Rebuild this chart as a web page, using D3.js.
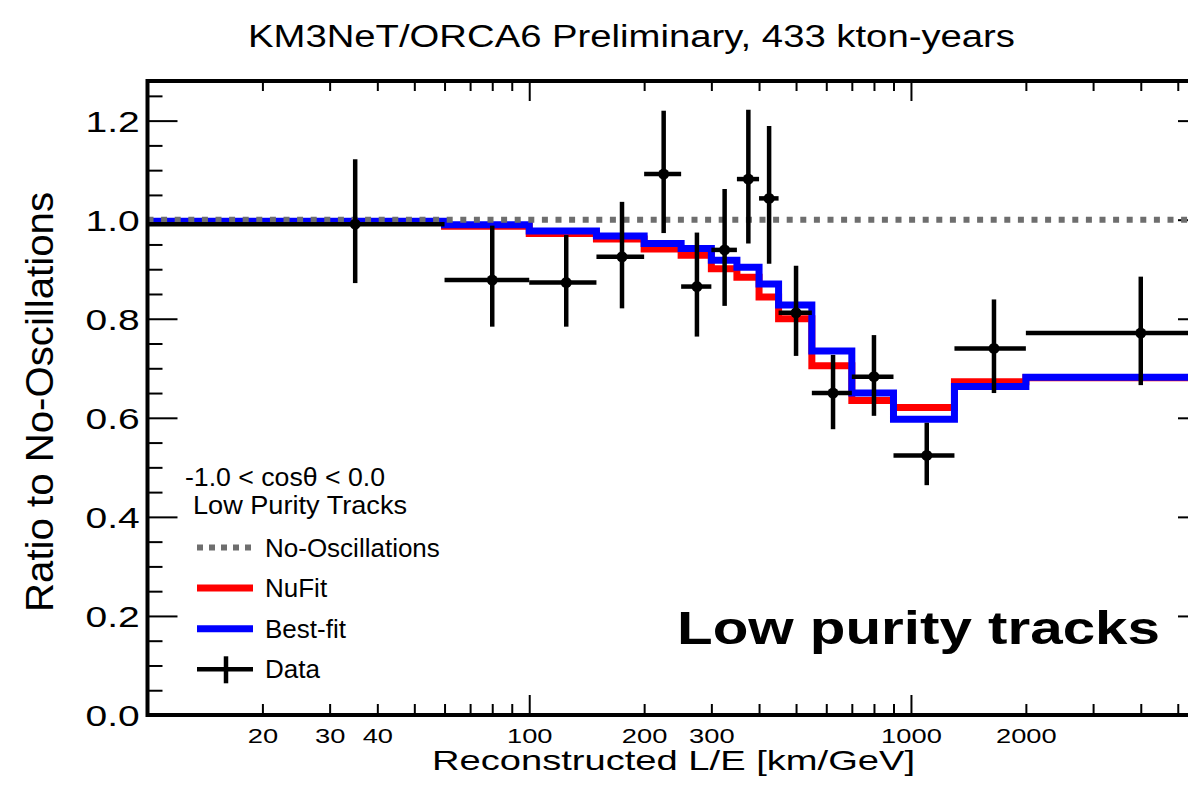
<!DOCTYPE html>
<html>
<head>
<meta charset="utf-8">
<script src="https://cdn.jsdelivr.net/npm/d3@7"></script>
<style>
  body { margin: 0; background: #fff; }
  svg { display: block; font-family: "Liberation Sans", Arial, Helvetica, sans-serif; }
</style>
</head>
<body>
<div id="chart"></div>
<script>
const width = 1188;
const height = 801;

// L/E bin edges [km/GeV]
const binEdges = [10, 60, 100, 150, 200, 250, 300, 350, 400, 450, 550, 700, 900, 1300, 2000, 6000];
const dataRatio = [0.991, 0.878, 0.873, 0.925, 1.092, 0.865, 0.939, 1.082, 1.043, 0.812, 0.650, 0.683, 0.524, 0.740, 0.771];
const dataUpper = [1.122, 0.988, 0.969, 1.036, 1.220, 0.974, 1.062, 1.222, 1.189, 0.907, 0.727, 0.767, 0.590, 0.839, 0.885];
const dataLower = [0.872, 0.784, 0.784, 0.821, 0.973, 0.764, 0.826, 0.952, 0.911, 0.725, 0.577, 0.604, 0.464, 0.650, 0.666];
const nufitRatio = [0.996, 0.987, 0.972, 0.961, 0.941, 0.928, 0.901, 0.884, 0.844, 0.800, 0.705, 0.635, 0.621, 0.673, 0.681];
const bestfitRatio = [0.997, 0.990, 0.977, 0.967, 0.952, 0.942, 0.918, 0.904, 0.870, 0.828, 0.735, 0.650, 0.597, 0.663, 0.682];
const noOscRatio = 1.0;

const xTickLabels = [20, 30, 40, 100, 200, 300, 1000, 2000];
const yTickLabels = [0, 0.2, 0.4, 0.6, 0.8, 1.0, 1.2];
const legendHeader = ["-1.0 < cos\u03b8 < 0.0", "Low Purity Tracks"];
const legendLabels = ["No-Oscillations", "NuFit", "Best-fit", "Data"];

const colors = {
    noOsc: "#6e6e6e",
    nufit: "#ff0000",
    bestfit: "#0000ff",
    data: "#000000"
};

const frame = { left: 147.5, right: 1208, top: 81, bottom: 715 };

const x = d3.scaleLog().domain([10, 6000]).range([frame.left, frame.right]);
const y = d3.scaleLinear().domain([0, 1.28]).range([frame.bottom, frame.top]);

const svg = d3.select("#chart")
    .append("svg")
    .attr("width", width)
    .attr("height", height);

const isDecade = v => Math.abs(Math.log10(v) - Math.round(Math.log10(v))) < 1e-9;
const xMajor = x.ticks().filter(isDecade);
const xMinor = x.ticks().filter(v => !isDecade(v));
const yMajor = yTickLabels;
const yMinor = d3.range(0, 26).map(i => i * 0.05).filter(v => Math.abs(v * 5 - Math.round(v * 5)) > 1e-6);

function cleanAxis(g) {
    g.select(".domain").remove();
    g.selectAll(".tick line").attr("stroke", "#000").attr("stroke-width", 2);
}

// ticks, all pointing inward
svg.append("g").attr("transform", `translate(0,${frame.bottom})`)
    .call(d3.axisBottom(x).tickValues(xMinor).tickSize(-11).tickFormat("")).call(cleanAxis);
svg.append("g").attr("transform", `translate(0,${frame.bottom})`)
    .call(d3.axisBottom(x).tickValues(xMajor).tickSize(-20).tickFormat("")).call(cleanAxis);
svg.append("g").attr("transform", `translate(0,${frame.top})`)
    .call(d3.axisTop(x).tickValues(xMinor).tickSize(-10).tickFormat("")).call(cleanAxis);
svg.append("g").attr("transform", `translate(0,${frame.top})`)
    .call(d3.axisTop(x).tickValues(xMajor).tickSize(-20).tickFormat("")).call(cleanAxis);
svg.append("g").attr("transform", `translate(${frame.left},0)`)
    .call(d3.axisLeft(y).tickValues(yMinor).tickSize(-15).tickFormat("")).call(cleanAxis);
svg.append("g").attr("transform", `translate(${frame.left},0)`)
    .call(d3.axisLeft(y).tickValues(yMajor).tickSize(-30).tickFormat("")).call(cleanAxis);
svg.append("g").attr("transform", `translate(${frame.right},0)`)
    .call(d3.axisRight(y).tickValues(yMinor).tickSize(-15).tickFormat("")).call(cleanAxis);
svg.append("g").attr("transform", `translate(${frame.right},0)`)
    .call(d3.axisRight(y).tickValues(yMajor).tickSize(-30).tickFormat("")).call(cleanAxis);

// tick labels (the original text is drawn a bit wider than normal)
const xLabels = svg.append("g").attr("transform", `translate(0,${frame.bottom})`)
    .call(d3.axisBottom(x).tickValues(xTickLabels).tickSize(0).tickPadding(13).tickFormat(d3.format("d")));
xLabels.select(".domain").remove();
xLabels.selectAll("text")
    .attr("font-family", null)
    .attr("font-size", 21)
    .attr("fill", "#000")
    .attr("transform", "scale(1.3,1)");
xLabels.attr("font-family", null);

const yLabels = svg.append("g").attr("transform", `translate(${frame.left},0)`)
    .call(d3.axisLeft(y).tickValues(yTickLabels).tickSize(0).tickPadding(6).tickFormat(d3.format(".1f")));
yLabels.select(".domain").remove();
yLabels.attr("font-family", null);
yLabels.selectAll("text")
    .attr("font-size", 30)
    .attr("fill", "#000")
    .attr("dy", "0.36em")
    .attr("transform", "scale(1.3,1)");

// histograms
const stepPoints = vals => binEdges.map((e, i) => [e, vals[Math.min(i, vals.length - 1)]]);
const stepLine = d3.line()
    .x(d => x(d[0]))
    .y(d => y(d[1]))
    .curve(d3.curveStepAfter);

svg.append("path")
    .datum(stepPoints(nufitRatio))
    .attr("d", stepLine)
    .attr("fill", "none")
    .attr("stroke", colors.nufit)
    .attr("stroke-width", 7);

svg.append("path")
    .datum(stepPoints(bestfitRatio))
    .attr("d", stepLine)
    .attr("fill", "none")
    .attr("stroke", colors.bestfit)
    .attr("stroke-width", 7);

svg.append("path")
    .datum([[binEdges[0], noOscRatio], [binEdges[binEdges.length - 1], noOscRatio]])
    .attr("d", d3.line().x(d => x(d[0])).y(d => y(d[1])))
    .attr("fill", "none")
    .attr("stroke", colors.noOsc)
    .attr("stroke-width", 6)
    .attr("stroke-dasharray", "6,7.6");

// data points with error bars
const bins = dataRatio.map((v, i) => ({
    lo: binEdges[i],
    hi: binEdges[i + 1],
    center: (binEdges[i] + binEdges[i + 1]) / 2,
    value: v,
    upper: dataUpper[i],
    lower: dataLower[i]
}));

const points = svg.append("g").selectAll("g")
    .data(bins)
    .enter()
    .append("g");

points.append("line")
    .attr("x1", d => x(d.lo))
    .attr("x2", d => x(d.hi))
    .attr("y1", d => y(d.value))
    .attr("y2", d => y(d.value))
    .attr("stroke", colors.data)
    .attr("stroke-width", 4.5);

points.append("line")
    .attr("x1", d => x(d.center))
    .attr("x2", d => x(d.center))
    .attr("y1", d => y(d.upper))
    .attr("y2", d => y(d.lower))
    .attr("stroke", colors.data)
    .attr("stroke-width", 4.5);

points.append("circle")
    .attr("cx", d => x(d.center))
    .attr("cy", d => y(d.value))
    .attr("r", 5.5)
    .attr("fill", colors.data);

// frame
svg.append("rect")
    .attr("x", frame.left)
    .attr("y", frame.top)
    .attr("width", frame.right - frame.left)
    .attr("height", frame.bottom - frame.top)
    .attr("fill", "none")
    .attr("stroke", "#000")
    .attr("stroke-width", 4);

// titles
svg.append("text")
    .attr("x", 248)
    .attr("y", 47)
    .attr("font-size", 31)
    .attr("textLength", 767)
    .attr("lengthAdjust", "spacingAndGlyphs")
    .text("KM3NeT/ORCA6 Preliminary, 433 kton-years");

svg.append("text")
    .attr("x", 432)
    .attr("y", 770)
    .attr("font-size", 28)
    .attr("textLength", 483)
    .attr("lengthAdjust", "spacingAndGlyphs")
    .text("Reconstructed L/E [km/GeV]");

svg.append("text")
    .attr("transform", "translate(53,612) rotate(-90)")
    .attr("font-size", 39.5)
    .attr("textLength", 420)
    .attr("lengthAdjust", "spacingAndGlyphs")
    .text("Ratio to No-Oscillations");

svg.append("text")
    .attr("x", 677)
    .attr("y", 644)
    .attr("font-size", 45.5)
    .attr("font-weight", "bold")
    .attr("textLength", 483)
    .attr("lengthAdjust", "spacingAndGlyphs")
    .text("Low purity tracks");

// legend
const legend = svg.append("g");

legend.selectAll("text.header")
    .data(legendHeader)
    .enter()
    .append("text")
    .attr("class", "header")
    .attr("x", (d, i) => [185, 193][i])
    .attr("y", (d, i) => 486 + i * 28)
    .attr("font-size", 25)
    .attr("textLength", (d, i) => [200, 214][i])
    .attr("lengthAdjust", "spacingAndGlyphs")
    .text(d => d);

const rowY = i => 547.5 + i * 40.6;
const sx0 = 197, sx1 = 253;

legend.selectAll("text.entry")
    .data(legendLabels)
    .enter()
    .append("text")
    .attr("class", "entry")
    .attr("x", 265)
    .attr("y", (d, i) => rowY(i) + 9)
    .attr("font-size", 26)
    .text(d => d);

legend.append("line")
    .attr("x1", sx0).attr("x2", sx1)
    .attr("y1", rowY(0)).attr("y2", rowY(0))
    .attr("stroke", colors.noOsc)
    .attr("stroke-width", 6)
    .attr("stroke-dasharray", "6,6");

legend.append("line")
    .attr("x1", sx0).attr("x2", sx1)
    .attr("y1", rowY(1)).attr("y2", rowY(1))
    .attr("stroke", colors.nufit)
    .attr("stroke-width", 7);

legend.append("line")
    .attr("x1", sx0).attr("x2", sx1)
    .attr("y1", rowY(2)).attr("y2", rowY(2))
    .attr("stroke", colors.bestfit)
    .attr("stroke-width", 7);

legend.append("line")
    .attr("x1", sx0).attr("x2", sx1)
    .attr("y1", rowY(3)).attr("y2", rowY(3))
    .attr("stroke", colors.data)
    .attr("stroke-width", 4.5);

legend.append("line")
    .attr("x1", 226).attr("x2", 226)
    .attr("y1", rowY(3) - 13).attr("y2", rowY(3) + 14)
    .attr("stroke", colors.data)
    .attr("stroke-width", 4.5);
</script>
</body>
</html>
